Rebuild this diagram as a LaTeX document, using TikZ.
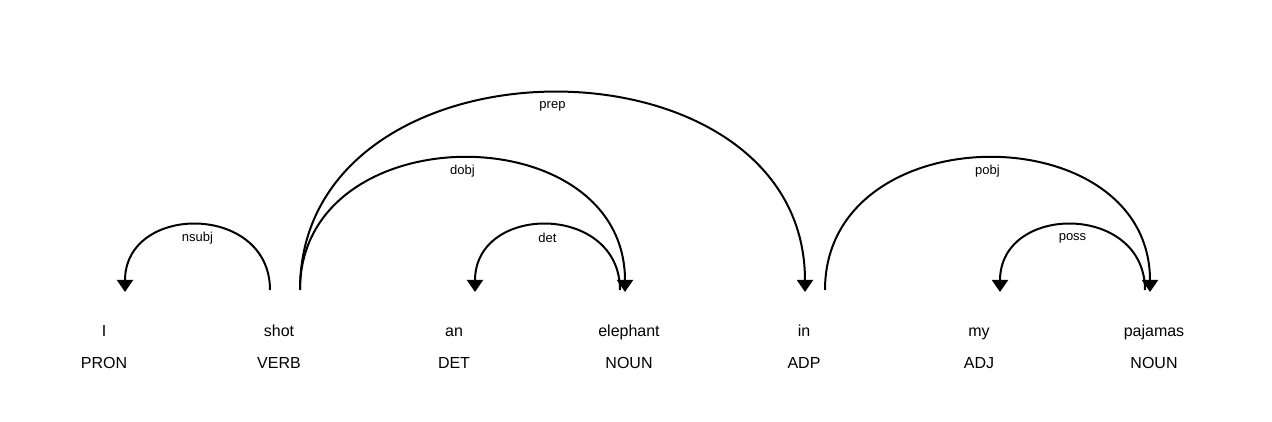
\documentclass[tikz,border=0pt]{standalone}
\usepackage{fontspec}
\setmainfont{Liberation Sans}
\usetikzlibrary{arrows.meta}

\begin{document}
\begin{tikzpicture}[x=1pt,y=1pt,
  word/.style={anchor=base, inner sep=0pt, font=\fontsize{16}{18}\selectfont},
  postag/.style={anchor=base, inner sep=0pt, font=\fontsize{16}{18}\selectfont},
  deparc/.style={line width=2pt, -{Triangle[length=12pt,width=16pt]}},
  deplabel/.style={inner sep=0pt, yshift=-13pt, font=\fontsize{13}{15}\selectfont}]
\useasboundingbox (0,0) rectangle (1272,422);
% tokens
\node[word] (I) at (104,85) {I};
\node[word] (shot) at (279,85) {shot};
\node[word] (an) at (454,85) {an};
\node[word] (elephant) at (629,85) {elephant};
\node[word] (in) at (804,85) {in};
\node[word] (my) at (979,85) {my};
\node[word] (pajamas) at (1154,85) {pajamas};
% tags
\node[postag] (tagI) at (104,53) {PRON};
\node[postag] (tagshot) at (279,53) {VERB};
\node[postag] (tagan) at (454,53) {DET};
\node[postag] (tagelephant) at (629,53) {NOUN};
\node[postag] (tagin) at (804,53) {ADP};
\node[postag] (tagmy) at (979,53) {ADJ};
\node[postag] (tagpajamas) at (1154,53) {NOUN};
% arcs
\draw[deparc] ([shift={(-9,47)}]shot.base) .. controls +(0,87) and +(0,89) .. ([shift={(21,45)}]I.base)
  node[deplabel, pos=0.5] {nsubj};
\draw[deparc] ([shift={(21,47)}]shot.base) .. controls +(0,176) and +(0,178) .. ([shift={(-4,45)}]elephant.base)
  node[deplabel, pos=0.5] {dobj};
\draw[deparc] ([shift={(-9,47)}]elephant.base) .. controls +(0,87) and +(0,89) .. ([shift={(21,45)}]an.base)
  node[deplabel, pos=0.5] {det};
\draw[deparc] ([shift={(21,47)}]shot.base) .. controls +(0,263) and +(0,265) .. ([shift={(1,45)}]in.base)
  node[deplabel, pos=0.5] {prep};
\draw[deparc] ([shift={(21,47)}]in.base) .. controls +(0,176) and +(0,178) .. ([shift={(-4,45)}]pajamas.base)
  node[deplabel, pos=0.5] {pobj};
\draw[deparc] ([shift={(-9,47)}]pajamas.base) .. controls +(0,87) and +(0,89) .. ([shift={(21,45)}]my.base)
  node[deplabel, pos=0.5] {poss};
\end{tikzpicture}
\end{document}
